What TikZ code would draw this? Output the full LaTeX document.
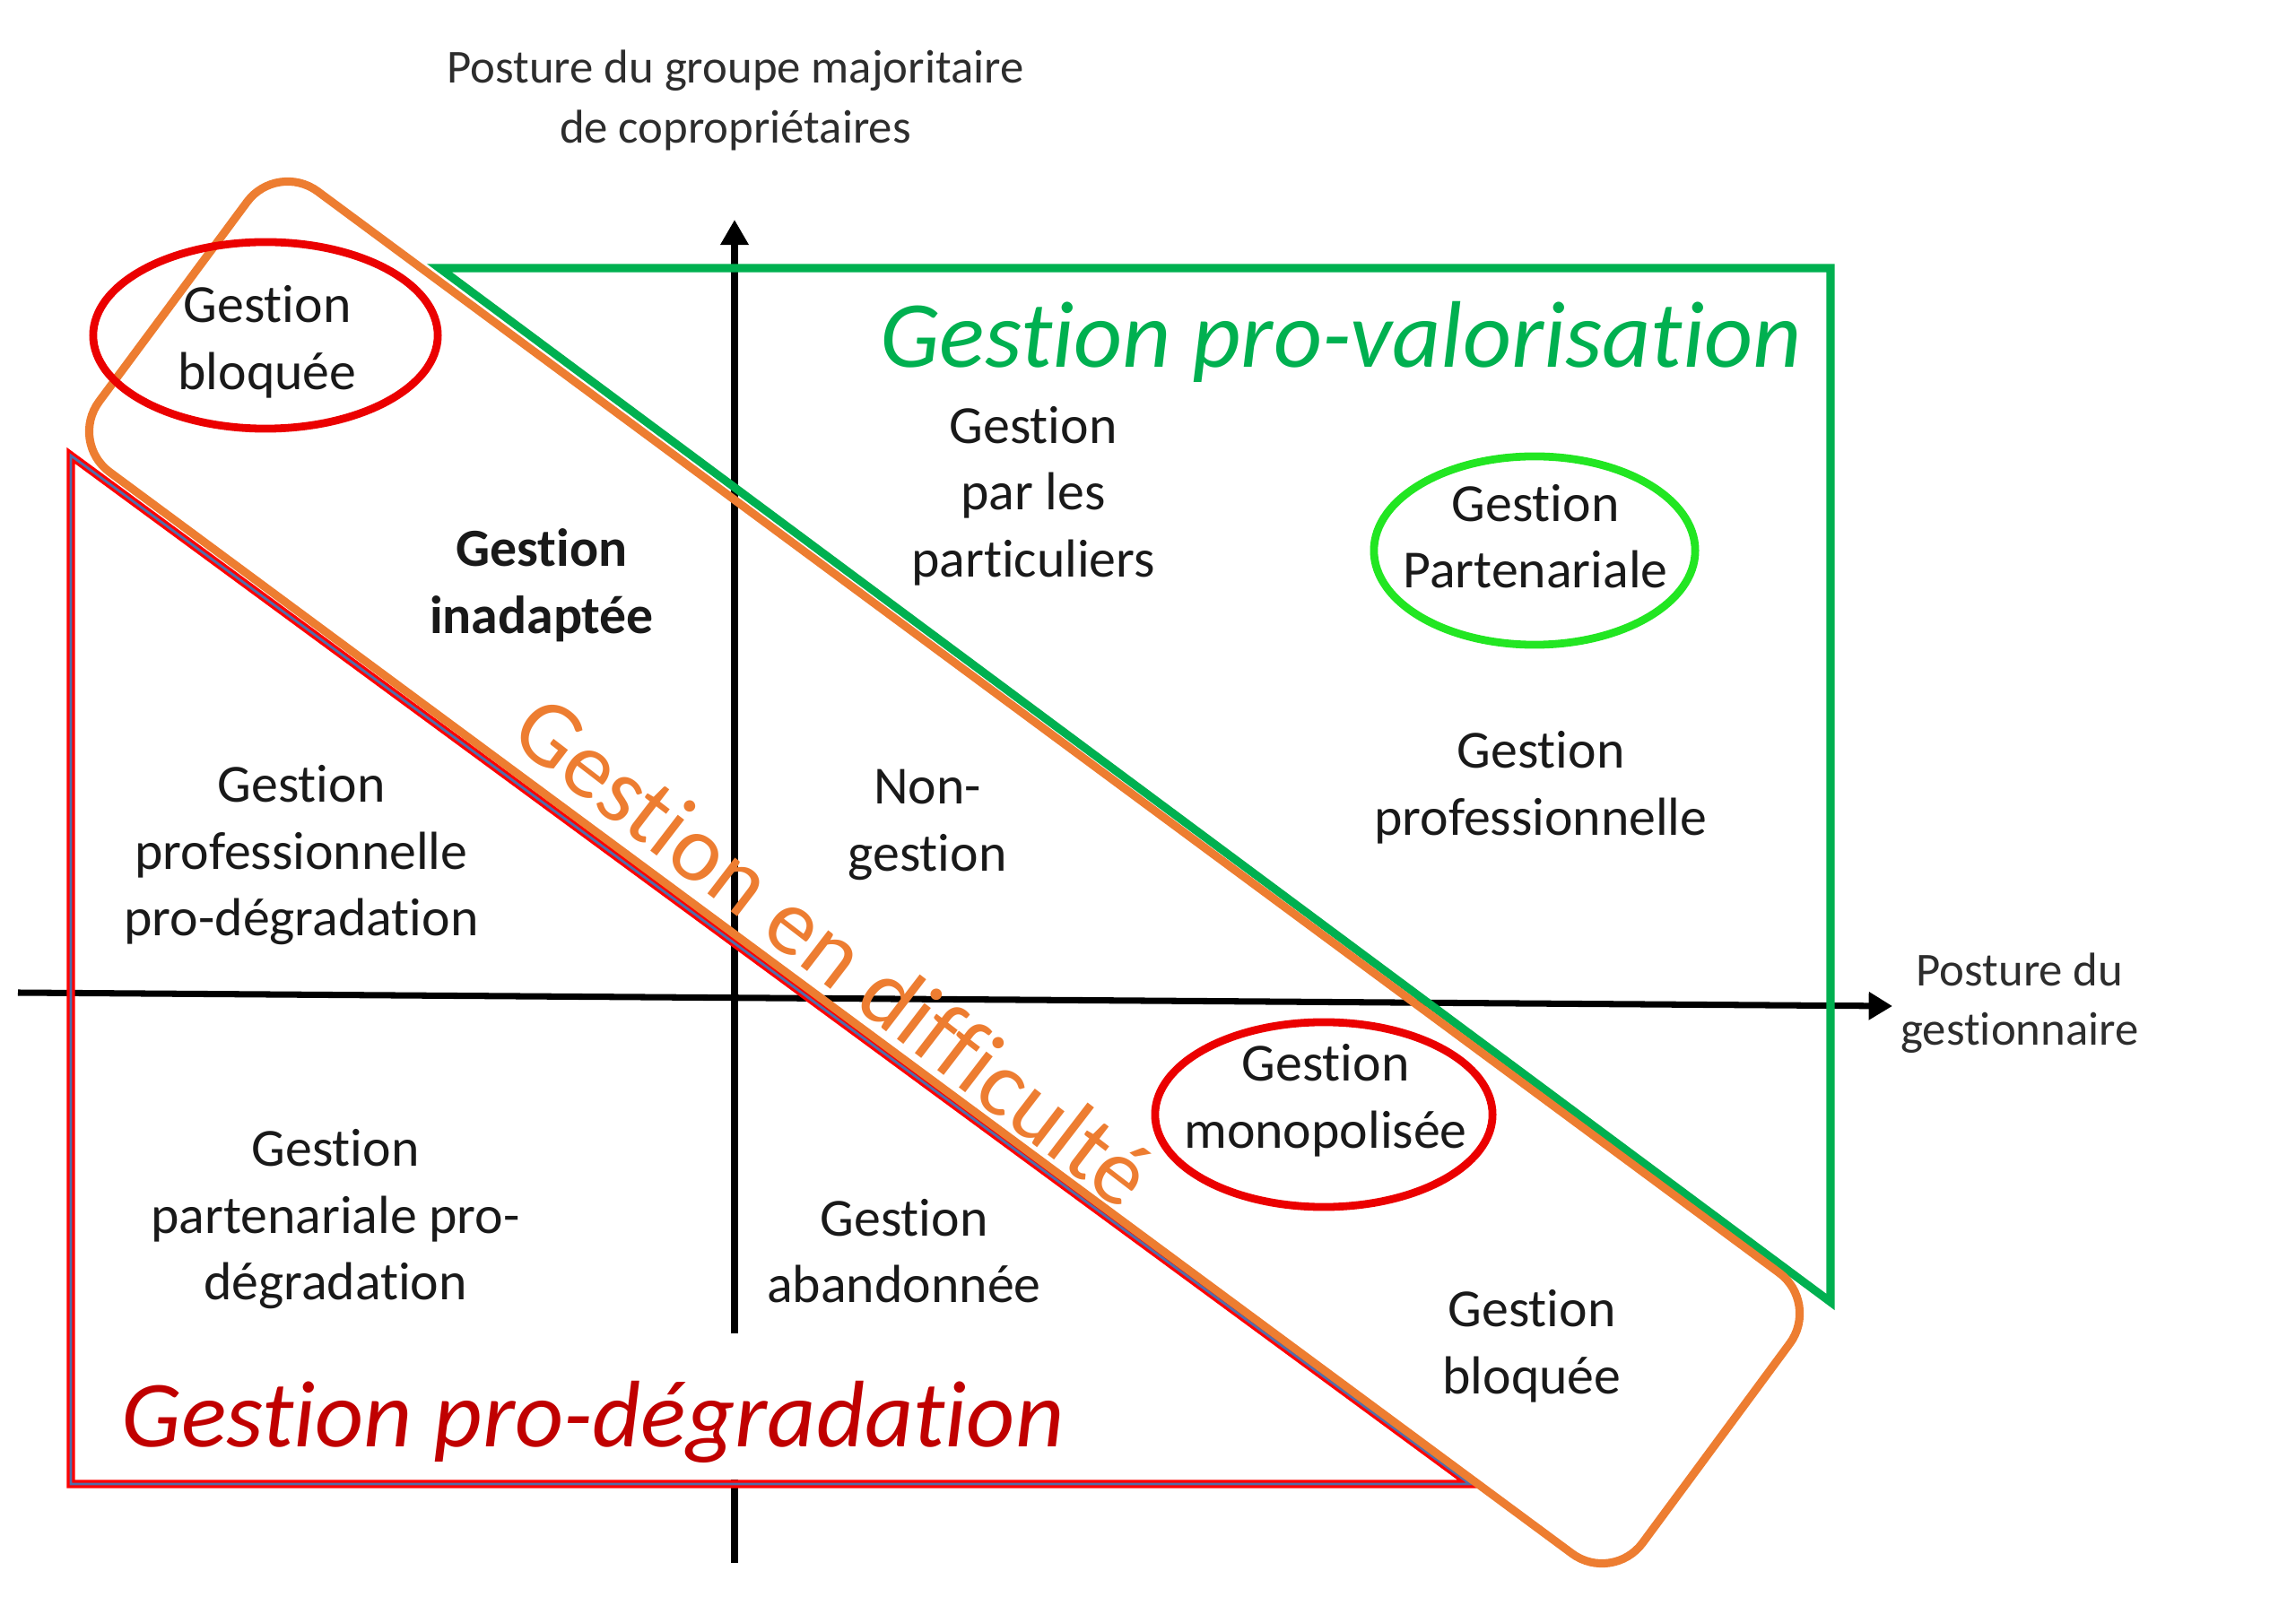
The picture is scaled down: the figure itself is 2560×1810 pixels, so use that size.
\documentclass[tikz,border=0pt]{standalone}
\usepackage{fontspec}
\setmainfont{Carlito}[Ligatures=CommonOff]
\usetikzlibrary{arrows.meta,shapes.geometric}
\definecolor{gline}{RGB}{0,176,80}
\definecolor{gbright}{RGB}{34,230,34}
\definecolor{rline}{RGB}{255,0,0}
\definecolor{rell}{RGB}{235,0,0}
\definecolor{bline}{RGB}{80,110,170}
\definecolor{oline}{RGB}{237,125,49}
\definecolor{rtitle}{RGB}{192,0,0}
\definecolor{txt}{RGB}{25,25,25}
\definecolor{axtxt}{RGB}{45,45,45}
\begin{document}
\begin{tikzpicture}[x=0.01cm,y=-0.01cm,
  lbl/.style={align=center,inner sep=0pt,text=txt,font=\fontsize{17}{21.2}\selectfont},
  axlbl/.style={align=center,inner sep=0pt,text=axtxt,font=\fontsize{15}{18.8}\selectfont},
  bigtitle/.style={inner sep=0pt,font=\fontsize{30}{36}\selectfont\itshape},
  axisline/.style={line width=2pt,black},
  ring/.style={ellipse,draw,line width=2.5pt,inner sep=0pt}]
\useasboundingbox (0,0) rectangle (2560,1810);

% axes
\coordinate (vtop) at (819,245);
\coordinate (vlow) at (819,1487);
\coordinate (vb1) at (819,1650);
\coordinate (vb2) at (819,1743);
\coordinate (hl) at (20,1107);
\coordinate (hr) at (2110,1122);
\draw[axisline,-{Triangle[length=8pt,width=8.5pt]}] (vlow) -- (vtop);
\draw[axisline] (vb1) -- (vb2);
\draw[axisline,-{Triangle[length=7.5pt,width=8.5pt]}] (hl) -- (hr);

% green region
\coordinate (g1) at (490,299);
\coordinate (g2) at (2041,299);
\coordinate (g3) at (2041,1452);
\draw[gline,line width=2.6pt] (g1) -- (g2) -- (g3) -- cycle;

% red region
\coordinate (r1) at (79,508);
\coordinate (r2) at (79,1655);
\coordinate (r3) at (1639,1655);
\draw[rline,line width=2.6pt] (r1) -- (r2) -- (r3) -- cycle;
\draw[bline,line width=0.8pt,shift={(6,-6)}] (r1) -- (r2) -- (r3) -- cycle;

% orange band
\coordinate (o1) at (309,180);
\coordinate (o2) at (2029,1453);
\coordinate (o3) at (1798,1766);
\coordinate (o4) at (77,493);
\draw[oline,line width=2.6pt,rounded corners=16pt] (o1) -- (o2) -- (o3) -- (o4) -- cycle;

% ellipses
\node[ring,rell,minimum width=3.84cm,minimum height=2.08cm] (ellTL) at (296,374) {};
\node[ring,gbright,minimum width=3.58cm,minimum height=2.1cm] (ellPart) at (1711,614) {};
\node[ring,rell,minimum width=3.76cm,minimum height=2.06cm] (ellMono) at (1476,1243) {};

% axis labels
\node[axlbl] (ylab) at (820,112) {Posture du groupe majoritaire\\de copropriétaires};
\node[axlbl] (xlab) at (2252,1119) {Posture du\\gestionnaire};

% titles
\node[bigtitle,text=gline,anchor=base] (tval) at (1495,410) {Gestion pro-valorisation};
\node[bigtitle,text=rtitle,anchor=base] (tdeg) at (661,1613) {Gestion pro-dégradation};
\node[inner sep=0pt,text=oline,font=\fontsize{30}{36}\selectfont,rotate=-37.5] (tdif) at (930,1060) {Gestion en difficulté};

% labels
\node[lbl] (bloqTL) at (298,381) {Gestion\\bloquée};
\node[lbl] (partic) at (1152,553) {Gestion\\par les\\particuliers};
\node[lbl] (parten) at (1712,598) {Gestion\\Partenariale};
\node[lbl,font=\fontsize{17}{21.2}\selectfont\bfseries] (inad) at (604,653) {Gestion\\inadaptée};
\node[lbl] (profdeg) at (336,954) {Gestion\\professionnelle\\pro-dégradation};
\node[lbl] (nong) at (1034,920) {Non-\\gestion};
\node[lbl] (prof) at (1718,878) {Gestion\\professionnelle};
\node[lbl] (mono) at (1478,1227) {Gestion\\monopolisée};
\node[lbl] (partdeg) at (374,1360) {Gestion\\partenariale pro-\\dégradation};
\node[lbl] (aband) at (1008,1395) {Gestion\\abandonnée};
\node[lbl] (bloqBR) at (1708,1501) {Gestion\\bloquée};
\end{tikzpicture}
\end{document}
